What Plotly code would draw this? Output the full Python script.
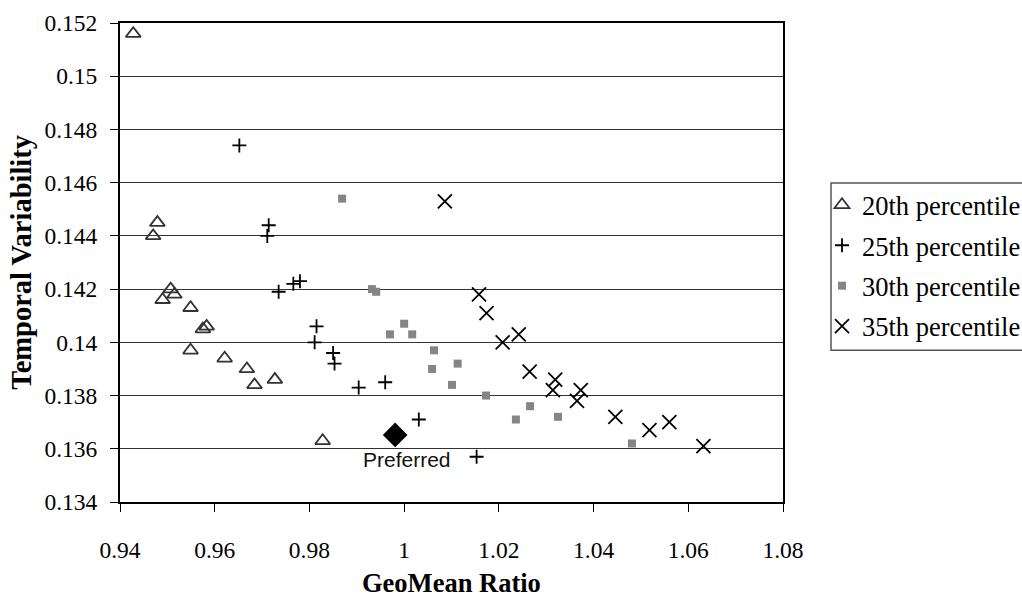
import plotly.graph_objects as go

# ---- data ----
p20_x = [0.9428, 0.9479, 0.9470, 0.9507, 0.9490, 0.9515, 0.9549, 0.9583, 0.9575, 0.9549, 0.9621, 0.9668, 0.9684, 0.9727, 0.9828]
p20_y = [0.1516, 0.1445, 0.1440, 0.1420, 0.1416, 0.1418, 0.1413, 0.1406, 0.1405, 0.1397, 0.1394, 0.1390, 0.1384, 0.1386, 0.1363]

p25_x = [0.9652, 0.9714, 0.9711, 0.9735, 0.9766, 0.9780, 0.9815, 0.9811, 0.9850, 0.9853, 0.9904, 0.9960, 1.0031, 1.0153]
p25_y = [0.1474, 0.1444, 0.1440, 0.1419, 0.1422, 0.1423, 0.1406, 0.1400, 0.1396, 0.1392, 0.1383, 0.1385, 0.1371, 0.1357]

p30_x = [0.9869, 0.9932, 0.9941, 1.0000, 0.9970, 1.0017, 1.0063, 1.0059, 1.0113, 1.0101, 1.0173, 1.0266, 1.0236, 1.0325, 1.0481]
p30_y = [0.1454, 0.1420, 0.1419, 0.1407, 0.1403, 0.1403, 0.1397, 0.1390, 0.1392, 0.1384, 0.1380, 0.1376, 0.1371, 0.1372, 0.1362]

p35_x = [1.0086, 1.0158, 1.0174, 1.0208, 1.0242, 1.0265, 1.0319, 1.0314, 1.0373, 1.0365, 1.0446, 1.0518, 1.0560, 1.0632]
p35_y = [0.1453, 0.1418, 0.1411, 0.1400, 0.1403, 0.1389, 0.1386, 0.1382, 0.1382, 0.1378, 0.1372, 0.1367, 0.1370, 0.1361]

preferred_x = [0.9981]
preferred_y = [0.13652]
preferred_label = "Preferred"

series_names = ["20th percentile", "25th percentile", "30th percentile", "35th percentile"]

x_tickvals = [0.94, 0.96, 0.98, 1.0, 1.02, 1.04, 1.06, 1.08]
x_ticktext = ["0.94", "0.96", "0.98", "1", "1.02", "1.04", "1.06", "1.08"]
y_tickvals = [0.134, 0.136, 0.138, 0.14, 0.142, 0.144, 0.146, 0.148, 0.15, 0.152]
y_ticktext = ["0.134", "0.136", "0.138", "0.14", "0.142", "0.144", "0.146", "0.148", "0.15", "0.152"]

x_title = "GeoMean Ratio"
y_title = "Temporal Variability"

SERIF = "Liberation Serif"
SANS = "Liberation Sans"

fig = go.Figure()

fig.add_trace(go.Scatter(
    x=p20_x, y=p20_y, mode="markers", name=series_names[0], legendgroup="a",
    marker=dict(symbol="triangle-up-open", size=13, color="#333333", line=dict(width=1.8, color="#333333")),
))
fig.add_trace(go.Scatter(
    x=p25_x, y=p25_y, mode="markers", name=series_names[1], legendgroup="b",
    marker=dict(symbol="cross-thin", size=10, color="#000000", line=dict(width=1.8, color="#000000")),
))
fig.add_trace(go.Scatter(
    x=p30_x, y=p30_y, mode="markers", name=series_names[2], legendgroup="c",
    marker=dict(symbol="square", size=8, color="#858585", line=dict(width=0)),
))
fig.add_trace(go.Scatter(
    x=p35_x, y=p35_y, mode="markers", name=series_names[3], legendgroup="d",
    marker=dict(symbol="x-thin", size=14, color="#000000", line=dict(width=1.8, color="#000000")),
))
fig.add_trace(go.Scatter(
    x=preferred_x, y=preferred_y, mode="markers", showlegend=False,
    marker=dict(symbol="diamond", size=19, color="#000000"),
))

fig.add_annotation(
    x=preferred_x[0], y=preferred_y[0], text=preferred_label, showarrow=False,
    xshift=12, yshift=-25, xanchor="center", yanchor="middle",
    font=dict(family=SANS, size=21, color="#111111"),
)

fig.add_annotation(
    xref="paper", yref="paper", x=-0.149, y=0.5, text="<b>" + y_title + "</b>",
    xanchor="center", yanchor="middle",
    textangle=-90, showarrow=False, font=dict(family=SERIF, size=28.5, color="#000000"),
)
fig.add_annotation(
    xref="paper", yref="paper", x=0.5, y=-0.170, text="<b>" + x_title + "</b>",
    xanchor="center", yanchor="middle",
    showarrow=False, font=dict(family=SERIF, size=26.5, color="#000000"),
)

# legend border drawn as a shape so the marker/text spacing can match
fig.add_shape(type="rect", xref="paper", yref="paper",
              x0=1.0724, x1=1.40, y0=0.317, y1=0.666,
              line=dict(color="#555555", width=1.5), fillcolor="rgba(0,0,0,0)")

fig.update_layout(
    width=1022, height=599,
    margin=dict(l=120, r=239, t=23, b=97, autoexpand=False),
    paper_bgcolor="white", plot_bgcolor="white",
    font=dict(family=SERIF, size=23, color="#000000"),
    legend=dict(
        x=1.0588, y=0.670, xanchor="left", yanchor="top",
        font=dict(family=SERIF, size=26.5, color="#000000"),
        bgcolor="rgba(0,0,0,0)", borderwidth=0,
        traceorder="grouped", tracegroupgap=3, itemwidth=30,
    ),
    showlegend=True,
)

fig.update_xaxes(
    range=[0.94, 1.08], tickvals=x_tickvals, ticktext=x_ticktext,
    showgrid=False, zeroline=False,
    showline=True, linecolor="#000000", linewidth=2, mirror=True,
    ticks="outside", ticklen=8, tickwidth=1, tickcolor="#000000",
    ticklabelstandoff=18,
    tickfont=dict(family=SERIF, size=23.5, color="#000000"),
)
fig.update_yaxes(
    range=[0.134, 0.152], tickvals=y_tickvals, ticktext=y_ticktext,
    showgrid=True, gridcolor="#333333", gridwidth=1, zeroline=False,
    showline=True, linecolor="#000000", linewidth=2, mirror=True,
    ticks="outside", ticklen=8, tickwidth=1, tickcolor="#000000",
    ticklabelstandoff=8,
    tickfont=dict(family=SERIF, size=23.5, color="#000000"),
)

fig.write_html("out.html")
